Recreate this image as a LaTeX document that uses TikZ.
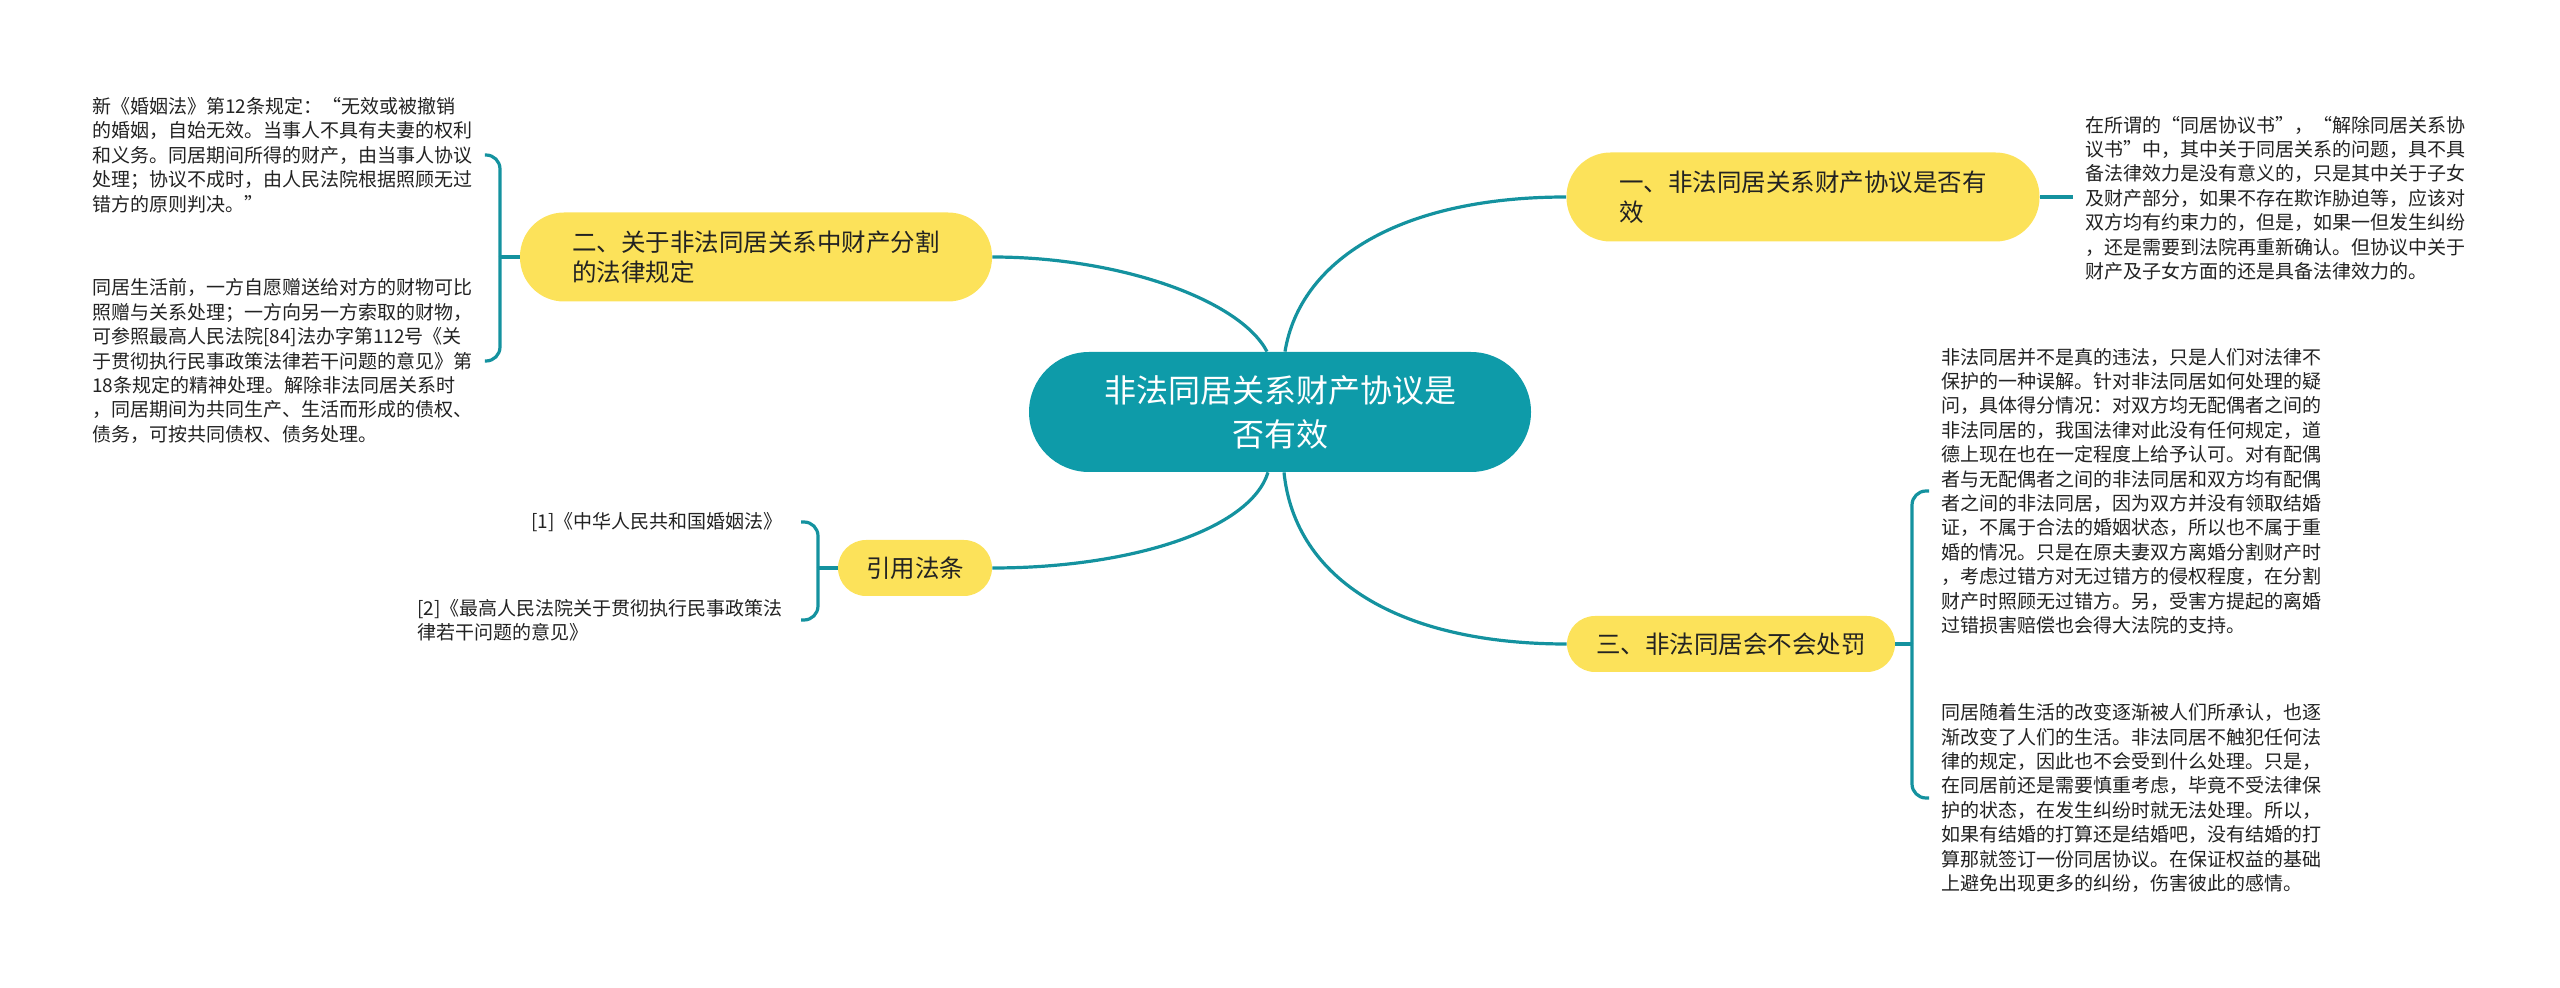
\documentclass[tikz,border=0pt]{standalone}
\usepackage{fontspec}
\setmainfont{Noto Sans CJK SC}
\usepackage{tikz}
\usepackage{xcolor}
\definecolor{tealroot}{HTML}{0E9BA9}
\definecolor{tealline}{HTML}{14929F}
\definecolor{yelbranch}{HTML}{FCE25A}
\definecolor{darktext}{HTML}{222222}

\begin{document}
\begin{tikzpicture}[x=0.5pt,y=-0.5pt,
    root/.style={fill=tealroot,text=white,rounded corners=30pt,minimum width=251pt,minimum height=60pt,align=center,font=\fontsize{16pt}{22pt}\selectfont},
    branch/.style={fill=yelbranch,text=darktext,rounded corners=14pt,minimum height=28pt,align=left,font=\fontsize{12.25pt}{15pt}\selectfont},
    leaf/.style={text=darktext,inner xsep=6pt,inner ysep=0pt,align=left,font=\fontsize{9.5pt}{12.2pt}\selectfont},
    link/.style={draw=tealline,line width=1.6pt}]
    \useasboundingbox (0,0) rectangle (2560,988);
    % centre and branches
    \node [root] (C0) at (1280,412) {非法同居关系财产协议是\\否有效};
    \node [branch,minimum width=236.5pt,minimum height=44.5pt,rounded corners=22pt] (B1) at (1803,197) {一、非法同居关系财产协议是否有\\效};
    \node [branch,minimum width=236pt,minimum height=44.5pt,rounded corners=22pt] (B2) at (756,257) {二、关于非法同居关系中财产分割\\的法律规定};
    \node [branch,minimum width=164pt] (B3) at (1731,644) {三、非法同居会不会处罚};
    \node [branch,minimum width=77pt] (B4) at (915,568) {引用法条};
    % leaves
    \node [leaf,anchor=west] (L1) at (2073,198) {在所谓的“同居协议书”，“解除同居关系协\\
        议书”中，其中关于同居关系的问题，具不具\\
        备法律效力是没有意义的，只是其中关于子女\\
        及财产部分，如果不存在欺诈胁迫等，应该对\\
        双方均有约束力的，但是，如果一但发生纠纷\\
        ，还是需要到法院再重新确认。但协议中关于\\
        财产及子女方面的还是具备法律效力的。};
    \node [leaf,anchor=west] (L2) at (80,155) {新《婚姻法》第12条规定：“无效或被撤销\\
        的婚姻，自始无效。当事人不具有夫妻的权利\\
        和义务。同居期间所得的财产，由当事人协议\\
        处理；协议不成时，由人民法院根据照顾无过\\
        错方的原则判决。”};
    \node [leaf,anchor=west] (L3) at (80,361) {同居生活前，一方自愿赠送给对方的财物可比\\
        照赠与关系处理；一方向另一方索取的财物，\\
        可参照最高人民法院[84]法办字第112号《关\\
        于贯彻执行民事政策法律若干问题的意见》第\\
        18条规定的精神处理。解除非法同居关系时\\
        ，同居期间为共同生产、生活而形成的债权、\\
        债务，可按共同债权、债务处理。};
    \node [leaf,anchor=west] (L4) at (1929,491) {非法同居并不是真的违法，只是人们对法律不\\
        保护的一种误解。针对非法同居如何处理的疑\\
        问，具体得分情况：对双方均无配偶者之间的\\
        非法同居的，我国法律对此没有任何规定，道\\
        德上现在也在一定程度上给予认可。对有配偶\\
        者与无配偶者之间的非法同居和双方均有配偶\\
        者之间的非法同居，因为双方并没有领取结婚\\
        证，不属于合法的婚姻状态，所以也不属于重\\
        婚的情况。只是在原夫妻双方离婚分割财产时\\
        ，考虑过错方对无过错方的侵权程度，在分割\\
        财产时照顾无过错方。另，受害方提起的离婚\\
        过错损害赔偿也会得大法院的支持。};
    \node [leaf,anchor=west] (L5) at (1929,798) {同居随着生活的改变逐渐被人们所承认，也逐\\
        渐改变了人们的生活。非法同居不触犯任何法\\
        律的规定，因此也不会受到什么处理。只是，\\
        在同居前还是需要慎重考虑，毕竟不受法律保\\
        护的状态，在发生纠纷时就无法处理。所以，\\
        如果有结婚的打算还是结婚吧，没有结婚的打\\
        算那就签订一份同居协议。在保证权益的基础\\
        上避免出现更多的纠纷，伤害彼此的感情。};
    \node [leaf,anchor=east,inner xsep=9pt] (L6) at (801,522) {{[1]}《中华人民共和国婚姻法》};
    \node [leaf,anchor=east,inner xsep=9pt] (L7) at (801,620) {{[2]}《最高人民法院关于贯彻执行民事政策法\\
        律若干问题的意见》};
    % curves from the centre
    \draw [link] ([xshift=2.5pt]C0.north) .. controls (1300,260) and (1400,197) .. (B1.west);
    \draw [link] ([xshift=-6.5pt]C0.north) .. controls (1240,300) and (1120,257) .. (B2.east);
    \draw [link] ([xshift=2pt]C0.south) .. controls (1295,580) and (1400,644) .. (B3.west);
    \draw [link] ([xshift=-6pt]C0.south) .. controls (1250,530) and (1130,568) .. (B4.east);
    % brackets to the leaves
    \draw [link] (B1.east) -- (B1.east -| L1.west);
    \coordinate (J2) at (500,257);
    \draw [link] (B2.west) -- (J2);
    \draw [link,rounded corners=7pt] (J2) |- (L2.east);
    \draw [link,rounded corners=7pt] (J2) |- (L3.east);
    \coordinate (J3) at (1912,644);
    \draw [link] (B3.east) -- (J3);
    \draw [link,rounded corners=7pt] (J3) |- (L4.west);
    \draw [link,rounded corners=7pt] (J3) |- (L5.west);
    \coordinate (J4) at (818,568);
    \draw [link] (B4.west) -- (J4);
    \draw [link,rounded corners=7pt] (J4) |- (L6.east);
    \draw [link,rounded corners=7pt] (J4) |- (L7.east);
\end{tikzpicture}
\end{document}
